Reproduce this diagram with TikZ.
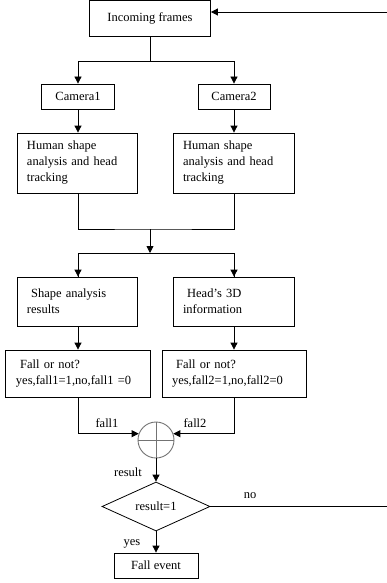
\documentclass[tikz,border=0pt]{standalone}
\usepackage{fontspec}
\setmainfont{Liberation Serif}
\usetikzlibrary{arrows.meta,shapes.geometric}
\begin{document}
\begin{tikzpicture}[x=1pt,y=-1pt,
  every node/.style={font=\fontsize{12.5}{16}\selectfont},
  box/.style={draw,line width=0.8pt,inner sep=0pt,align=center},
  lbox/.style={draw,line width=0.8pt,inner xsep=10pt,inner ysep=0pt,align=left},
  conn/.style={line width=0.8pt},
  arr/.style={conn,-{Triangle[length=7pt,width=7pt]}},
  lbl/.style={inner sep=0pt}
]
\useasboundingbox (0,0) rectangle (387,583);

\node[box,minimum width=121pt,minimum height=36pt] (inc) at (150,18) {Incoming frames};
\node[box,minimum width=73pt,minimum height=25pt] (cam1) at (78,96.5) {Camera1};
\node[box,minimum width=72pt,minimum height=25pt] (cam2) at (234,96.5) {Camera2};
\node[lbox,text width=100pt,minimum height=60pt] (hs1) at (77,163) {Human shape analysis and head tracking};
\node[lbox,text width=101pt,minimum height=60pt] (hs2) at (233.5,163) {Human shape analysis and head tracking};
\node[lbox,text width=100pt,minimum height=49pt] (sa) at (77,301.5) {\ Shape analysis\\results};
\node[lbox,text width=101pt,minimum height=49pt] (hd) at (233.5,301.5) {\ Head’s 3D\\information};
\node[lbox,inner xsep=11pt,text width=123pt,minimum height=47pt] (f1) at (77.5,373.5) {\ Fall or not?\\yes,fall1=1,no,fall1 =0};
\node[lbox,inner xsep=10pt,text width=124pt,minimum height=47pt] (f2) at (234,373.5) {\ Fall or not?\\yes,fall2=1,no,fall2=0};
\node[draw=black!55,line width=0.9pt,circle,minimum size=36pt,inner sep=0pt] (circ) at (156,440) {};
\draw[black!55,line width=0.9pt] (circ.north) -- (circ.south) (circ.west) -- (circ.east);
\node[draw,line width=0.8pt,diamond,aspect=2.2,minimum width=108pt,minimum height=49pt,inner sep=0pt] (dia) at (156,506.5) {result=1};
\node[box,minimum width=84pt,minimum height=25pt] (fe) at (156,565.5) {Fall event};

\coordinate (j1) at (150,61);
\coordinate (j2) at (150,229);
\coordinate (j3) at (150,253);
\coordinate (r1) at (386.5,506.5);
\coordinate (r2) at (386.5,12);

\draw[conn] (inc.south) -- (j1);
\draw[arr] (j1) -| (cam1.north);
\draw[arr] (j1) -| (cam2.north);
\draw[arr] (cam1.south) -- (cam1.south |- hs1.north);
\draw[arr] (cam2.south) -- (cam2.south |- hs2.north);
\draw[conn] (hs1.south -| cam1.south) |- (j2) -| (hs2.south -| cam2.south);
\draw[arr] (j2) -- (j3);
\draw[conn] (j3) -| (sa.north -| cam1.south);
\draw[conn] (j3) -| (hd.north -| cam2.south);
\draw[arr] (j3 -| cam1.south) -- (sa.north -| cam1.south);
\draw[arr] (j3 -| cam2.south) -- (hd.north -| cam2.south);
\draw[arr] (sa.south -| cam1.south) -- (f1.north -| cam1.south);
\draw[arr] (hd.south -| cam2.south) -- (f2.north -| cam2.south);
\draw[arr] (f1.south -| cam1.south) |- (circ.160);
\draw[arr] (f2.south -| cam2.south) |- (circ.20);
\node[lbl] (l1) at (107,423) {fall1};
\node[lbl] (l2) at (195,423) {fall2};
\draw[arr] (circ.south) -- (dia.north);
\node[lbl] (lr) at (128,472) {result};
\draw[conn] (dia.east) -- (r1);
\node[lbl] (ln) at (250,496) {no};
\draw[arr] (r2) -- (r2 -| inc.east);
\draw[arr] (dia.south) -- (fe.north);
\node[lbl] (ly) at (132,544) {yes};
\end{tikzpicture}
\end{document}
